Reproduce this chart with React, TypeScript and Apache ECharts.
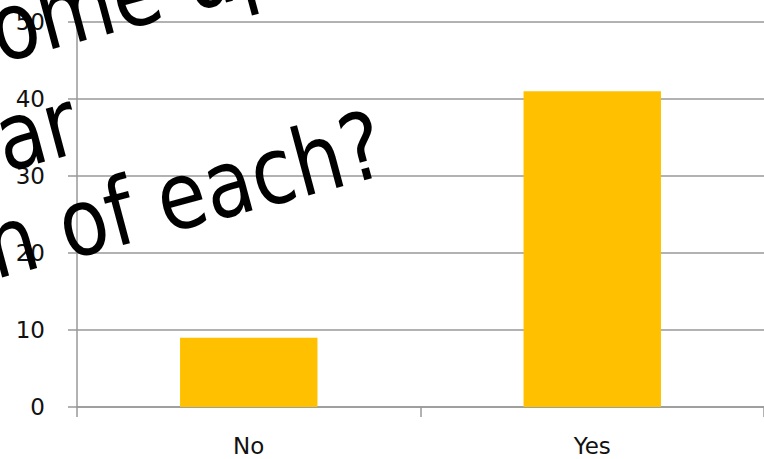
import React, { useEffect, useRef } from "react";
import * as echarts from "echarts";

const categories = ["No", "Yes"];
const values = [9, 41];
const overlayLines = ["ome up", "ar", "n of each?"];

export default function App() {
  const ref = useRef<HTMLDivElement>(null);
  useEffect(() => {
    if (!ref.current) return;
    const chart = echarts.init(ref.current, null, { renderer: "svg" });
    const rot = (15 * Math.PI) / 180;
    const font = "DejaVu Sans";
    const lineAnchors = [
      [3, 77],
      [9, 186],
      [-1, 293],
    ];
    chart.setOption({
      animation: false,
      backgroundColor: "#ffffff",
      grid: { left: 77, right: -3, top: 22, bottom: 52, containLabel: false },
      xAxis: {
        type: "category",
        data: categories,
        boundaryGap: true,
        axisLine: { show: true, lineStyle: { color: "#999999", width: 1.5 } },
        axisTick: { show: true, length: 10, lineStyle: { color: "#999999", width: 1.5 } },
        axisLabel: { fontFamily: font, fontSize: 23, color: "#111111", margin: 27 },
      },
      yAxis: {
        type: "value",
        min: 0,
        max: 50,
        interval: 10,
        axisLine: { show: true, lineStyle: { color: "#999999", width: 1.5 } },
        axisTick: { show: true, length: 9, lineStyle: { color: "#999999", width: 1.5 } },
        axisLabel: { fontFamily: font, fontSize: 23, color: "#111111", margin: 32 },
        splitLine: { show: true, lineStyle: { color: "#999999", width: 1.5 } },
      },
      series: [
        {
          type: "bar",
          data: values,
          barWidth: "40%",
          itemStyle: { color: "#FFC000" },
        },
      ],
      graphic: overlayLines.map((t, i) => ({
        type: "text",
        x: lineAnchors[i][0],
        y: lineAnchors[i][1],
        rotation: rot,
        scaleY: 1.18,
        z: 100,
        style: {
          text: t,
          fontFamily: font,
          fontSize: 79,
          fill: "#000000",
          align: "left",
          verticalAlign: "bottom",
        },
      })),
    });
    return () => chart.dispose();
  }, []);
  return <div ref={ref} style={{ width: 764, height: 459, position: "absolute", left: 0, top: 0 }} />;
}
